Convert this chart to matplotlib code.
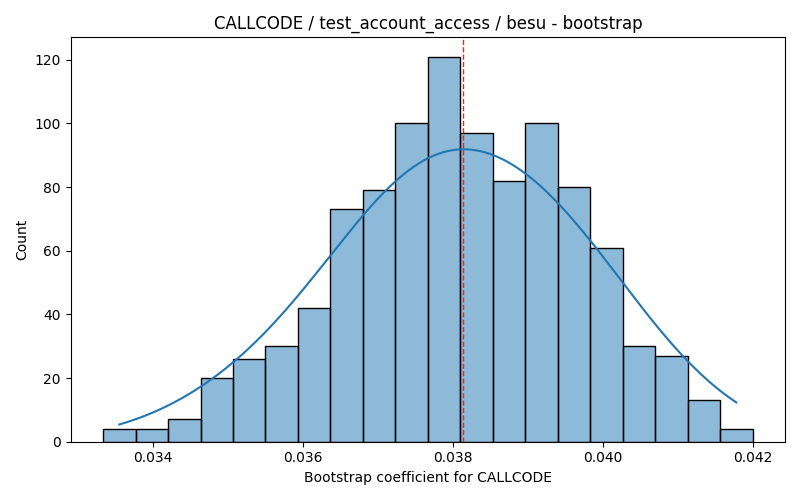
import numpy as np
import pandas as pd
import matplotlib
matplotlib.use("Agg")
import matplotlib.pyplot as plt
import seaborn as sns

lo, hi = 0.03333, 0.04200
counts = [4, 4, 7, 20, 26, 30, 42, 73, 79, 100, 121, 97, 82, 100, 80, 61, 30, 27, 13, 4]
mean_val = 0.03814
title = "CALLCODE / test_account_access / besu - bootstrap"

edges = np.linspace(lo, hi, len(counts) + 1)
centers = (edges[:-1] + edges[1:]) / 2
df = pd.DataFrame({"x": centers, "w": counts})

fig, ax = plt.subplots(figsize=(8, 5), dpi=100)
sns.histplot(data=df, x="x", weights="w", bins=len(counts), binrange=(lo, hi),
             kde=True, ax=ax)
ax.axvline(mean_val, color="#c0392b", linestyle="--", linewidth=1)
ax.set_title(title)
ax.set_xlabel("Bootstrap coefficient for CALLCODE")
ax.set_ylabel("Count")
fig.tight_layout()
fig.savefig("out.png")
